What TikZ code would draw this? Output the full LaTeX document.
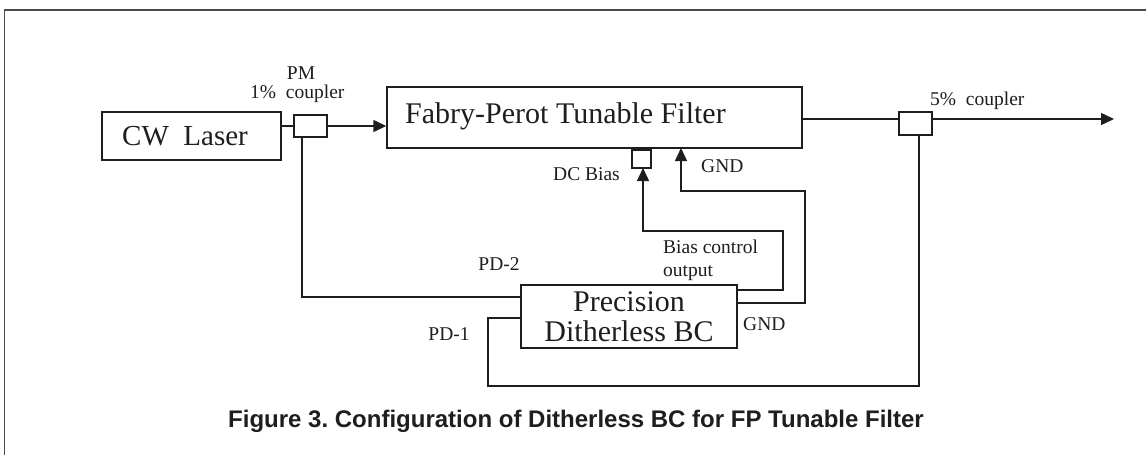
\documentclass[tikz,border=0pt]{standalone}
\usepackage{fontspec}
\setmainfont{Liberation Serif}
\newfontfamily\capfont{Liberation Sans}
\usetikzlibrary{arrows.meta}
\definecolor{ink}{HTML}{1E1E1E}
\frenchspacing
\tikzset{
  box/.style={draw=ink, line width=1.4pt, rectangle, inner sep=0pt},
  wire/.style={draw=ink, line width=1.4pt},
  arr/.style={wire, -{Triangle[length=13pt,width=12pt]}},
  big/.style={text=ink, font=\fontsize{30}{30}\selectfont, inner sep=0pt},
  small/.style={text=ink, font=\fontsize{19.5}{23}\selectfont, inner sep=0pt},
}
\begin{document}
\begin{tikzpicture}[x=1pt,y=-1pt]
\useasboundingbox (0,0) rectangle (1146,455);
\fill[white] (0,0) rectangle (1146,455);
% frame
\draw[wire, line width=1.2pt, draw=ink!80] (4.5,455) -- (4.5,10) -- (1146,10);

% boxes
\node[box, minimum width=179pt, minimum height=48pt] (laser) at (191.5,136) {};
\node[big, anchor=west, font=\fontsize{29}{30}\selectfont] (lasert) at (122,136) {CW\ \ Laser};
\node[box, minimum width=33pt, minimum height=22pt] (pm) at (310.5,126) {};
\node[box, minimum width=415pt, minimum height=61pt] (fp) at (594.5,117.5) {};
\node[big, anchor=west] (fpt) at (405,116) {Fabry-Perot Tunable Filter};
\node[box, minimum width=19pt, minimum height=18pt] (dcb) at (641.5,159) {};
\node[box, minimum width=33pt, minimum height=23pt] (c5) at (915.5,123.5) {};
\node[box, minimum width=216pt, minimum height=63pt, big, align=center] (pd) at (629,316.5) {Precision\\Ditherless BC};

% coordinates
\coordinate (outp) at (1114,119);
\coordinate (pmdown) at (302,137);
\coordinate (pd2a) at (302,297);
\coordinate (pd2b) at (521,297);
\coordinate (c5down) at (919,135);
\coordinate (pd1a) at (919,386);
\coordinate (pd1b) at (488,386);
\coordinate (pd1c) at (488,318);
\coordinate (pd1d) at (521,318);
\coordinate (bca) at (737,290);
\coordinate (bcb) at (783,290);
\coordinate (bcc) at (783,231);
\coordinate (bcd) at (643,231);
\coordinate (bce) at (643,168);
\coordinate (gna) at (737,303);
\coordinate (gnb) at (805,303);
\coordinate (gnc) at (805,191);
\coordinate (gnd) at (681,191);
\coordinate (gne) at (681,148);

% optical path
\draw[wire] (pm.west) -- (pm.west -| laser.east);
\draw[arr] (pm.east) -- (pm.east -| fp.west);
\draw[wire] (fp.east |- outp) -- (c5.west |- outp);
\draw[arr] (c5.east |- outp) -- (outp);

% PD-2
\draw[wire] (pmdown) -- (pd2a) -- (pd2b);
% PD-1
\draw[wire] (c5down) -- (pd1a) -- (pd1b) -- (pd1c) -- (pd1d);
% bias control
\draw[arr] (bca) -- (bcb) -- (bcc) -- (bcd) -- (bce);
% GND
\draw[arr] (gna) -- (gnb) -- (gnc) -- (gnd) -- (gne);

% labels
\node[small] (lpm) at (301,73) {PM};
\node[small, anchor=west] (l1) at (250,94) {1\%\ \ coupler};
\node[small, anchor=east] (ldc) at (620,174) {DC Bias};
\node[small, anchor=west] (lgnd1) at (701,166) {GND};
\node[small, anchor=west] (l5) at (930,101) {5\%\ \ coupler};
\node[small] (lpd2) at (499,264) {PD-2};
\node[small] (lpd1) at (449,334) {PD-1};
\node[small, anchor=west, align=left] (lbc) at (663,260) {Bias control\\output};
\node[small, anchor=west] (lgnd2) at (743,324) {GND};

% caption
\node[text=ink, inner sep=0pt, anchor=base, font=\capfont\bfseries\fontsize{24}{26}\selectfont\frenchspacing] (cap) at (576,427) {Figure 3. Configuration of Ditherless BC for FP Tunable Filter};
\end{tikzpicture}
\end{document}
